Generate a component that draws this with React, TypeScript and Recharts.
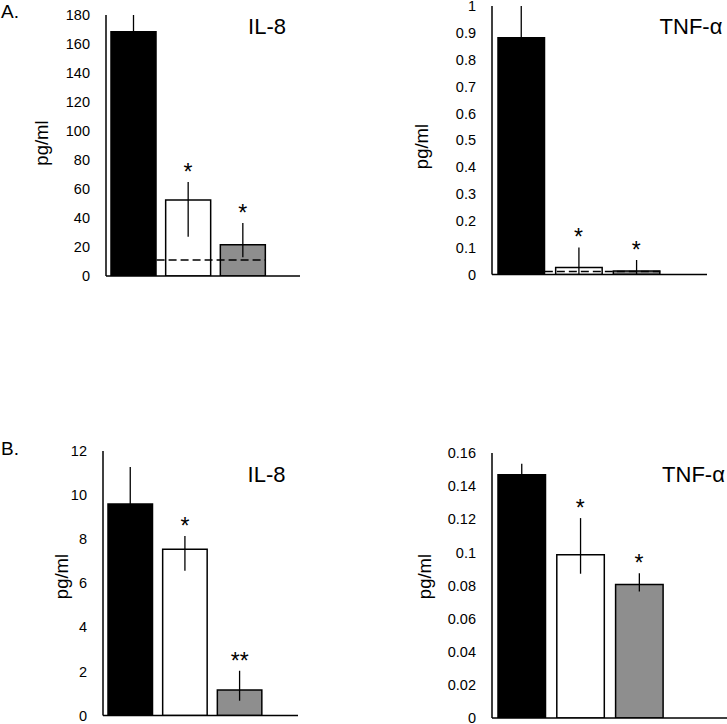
import React from 'react';
import { ComposedChart, Bar, XAxis, YAxis, ErrorBar, Scatter, ReferenceLine, Cell } from 'recharts';

// ---- data ----
const groups = ['Group 1', 'Group 2', 'Group 3'];
const barColors = ['#000000', '#ffffff', '#8e8e8e'];

const aIL8Values = [168.5, 52.5, 21.5];
const aIL8Errors: [number, number][] = [[11.5, 11.5], [25.4, 12.3], [8.5, 15]];
const aIL8Sig = ['', '*', '*'];
const aIL8Threshold = 11;
const aIL8Ticks = [0, 20, 40, 60, 80, 100, 120, 140, 160, 180];

const aTNFValues = [0.882, 0.026, 0.013];
const aTNFErrors: [number, number][] = [[0.118, 0.118], [0.026, 0.075], [0.013, 0.041]];
const aTNFSig = ['', '*', '*'];
const aTNFThreshold = 0.011;
const aTNFTicks = [0, 0.1, 0.2, 0.3, 0.4, 0.5, 0.6, 0.7, 0.8, 0.9, 1];

const bIL8Values = [9.6, 7.54, 1.16];
const bIL8Errors: [number, number][] = [[1.67, 1.67], [0.97, 0.6], [0.49, 0.87]];
const bIL8Sig = ['', '*', '**'];
const bIL8Ticks = [0, 2, 4, 6, 8, 10, 12];

const bTNFValues = [0.1469, 0.0986, 0.0806];
const bTNFErrors: [number, number][] = [[0.0066, 0.0066], [0.0115, 0.0221], [0.0042, 0.0068]];
const bTNFSig = ['', '*', '*'];
const bTNFTicks = [0, 0.02, 0.04, 0.06, 0.08, 0.1, 0.12, 0.14, 0.16];

const FONT = '"Liberation Sans", Arial, sans-serif';
const PAD = 12; // extra room around plot so tick labels are not clipped

type PanelProps = {
  left: number;
  plotTop: number;
  plotBottom: number;
  width: number;
  yAxisWidth: number;
  padRight: number;
  barSize: number;
  values: number[];
  errors: [number, number][];
  sig: string[];
  ticks: number[];
  threshold?: number;
};

function Panel(p: PanelProps) {
  const data = groups.map((g, i) => ({
    group: g,
    value: p.values[i],
    err: p.errors[i],
    sig: p.sig[i],
    sigY: p.values[i] + p.errors[i][1],
  }));
  const maxY = p.ticks[p.ticks.length - 1];
  const top = p.plotTop - PAD;
  const xAxisH = 2;
  const height = p.plotBottom - top + xAxisH + PAD;
  const halfBar = (p.barSize + 1.5) / 2;
  return (
    <div style={{ position: 'absolute', left: p.left, top }}>
      <ComposedChart
        width={p.width}
        height={height}
        data={data}
        margin={{ top: PAD, right: 0, bottom: PAD, left: 0 }}
      >
        <XAxis
          dataKey="group"
          tick={false}
          tickLine={false}
          axisLine={{ stroke: '#000', strokeWidth: 1.5 }}
          height={xAxisH}
          padding={{ left: 0, right: p.padRight }}
        />
        <YAxis
          width={p.yAxisWidth}
          domain={[0, maxY]}
          ticks={p.ticks}
          interval={0}
          allowDataOverflow
          tickLine={false}
          tickSize={0}
          tickMargin={16}
          axisLine={{ stroke: '#000', strokeWidth: 1.5 }}
          tick={{ fill: '#000', fontSize: 14.5, fontFamily: FONT }}
          tickFormatter={(v: number) => String(Number(v.toFixed(4)))}
        />
        <Bar dataKey="value" barSize={p.barSize} isAnimationActive={false} stroke="#000" strokeWidth={1.5}>
          {data.map((d, i) => (
            <Cell key={d.group} fill={barColors[i]} />
          ))}
          <ErrorBar dataKey="err" width={0} stroke="#000" strokeWidth={1.3} direction="y" />
        </Bar>
        {p.threshold != null && (
          <ReferenceLine
            segment={[
              { x: groups[0], y: p.threshold },
              { x: groups[2], y: p.threshold },
            ]}
            ifOverflow="visible"
            shape={(props: any) => (
              <line
                x1={props.x1 + halfBar}
                y1={props.y1}
                x2={props.x2 + halfBar}
                y2={props.y2}
                stroke="#000"
                strokeWidth={1.5}
                strokeDasharray="8 4"
              />
            )}
          />
        )}
        <Scatter
          dataKey="sigY"
          isAnimationActive={false}
          shape={(props: any) =>
            props.payload && props.payload.sig ? (
              <text
                x={props.cx}
                y={props.cy - 2}
                textAnchor="middle"
                fontSize={23}
                fontFamily={FONT}
                fill="#000"
              >
                {props.payload.sig}
              </text>
            ) : (
              <g />
            )
          }
        />
      </ComposedChart>
    </div>
  );
}

const textStyle = { fontFamily: FONT, fill: '#000' };

export default function App() {
  return (
    <div style={{ position: 'absolute', left: 0, top: 0, width: 727, height: 724, background: '#fff', overflow: 'hidden' }}>
      <Panel
        left={0}
        plotTop={14.5}
        plotBottom={275.5}
        width={300}
        yAxisWidth={106}
        padRight={30}
        barSize={45}
        values={aIL8Values}
        errors={aIL8Errors}
        sig={aIL8Sig}
        ticks={aIL8Ticks}
        threshold={aIL8Threshold}
      />
      <Panel
        left={380}
        plotTop={6}
        plotBottom={274.5}
        width={327}
        yAxisWidth={112}
        padRight={42}
        barSize={46.5}
        values={aTNFValues}
        errors={aTNFErrors}
        sig={aTNFSig}
        ticks={aTNFTicks}
        threshold={aTNFThreshold}
      />
      <Panel
        left={0}
        plotTop={451}
        plotBottom={715.5}
        width={298}
        yAxisWidth={103}
        padRight={31}
        barSize={44.5}
        values={bIL8Values}
        errors={bIL8Errors}
        sig={bIL8Sig}
        ticks={bIL8Ticks}
      />
      <Panel
        left={380}
        plotTop={452.5}
        plotBottom={717.5}
        width={347}
        yAxisWidth={112}
        padRight={58.6}
        barSize={47.5}
        values={bTNFValues}
        errors={bTNFErrors}
        sig={bTNFSig}
        ticks={bTNFTicks}
      />
      <svg
        width={727}
        height={724}
        style={{ position: 'absolute', left: 0, top: 0, pointerEvents: 'none' }}
      >
        <text x={1} y={17.5} fontSize={19} style={textStyle}>A.</text>
        <text x={1} y={455} fontSize={19} style={textStyle}>B.</text>
        <text x={267} y={33.5} fontSize={22} textAnchor="middle" style={textStyle}>IL-8</text>
        <text x={691} y={33.5} fontSize={22} textAnchor="middle" style={textStyle}>TNF-α</text>
        <text x={266.5} y={481.5} fontSize={22} textAnchor="middle" style={textStyle}>IL-8</text>
        <text x={693.5} y={481.5} fontSize={22} textAnchor="middle" style={textStyle}>TNF-α</text>
        <text x={48} y={143} fontSize={18.5} textAnchor="middle" transform="rotate(-90 48 143)" style={textStyle}>pg/ml</text>
        <text x={428} y={146.5} fontSize={18.5} textAnchor="middle" transform="rotate(-90 428 146.5)" style={textStyle}>pg/ml</text>
        <text x={68} y={576.5} fontSize={18.5} textAnchor="middle" transform="rotate(-90 68 576.5)" style={textStyle}>pg/ml</text>
        <text x={431} y={576.5} fontSize={18.5} textAnchor="middle" transform="rotate(-90 431 576.5)" style={textStyle}>pg/ml</text>
      </svg>
    </div>
  );
}
